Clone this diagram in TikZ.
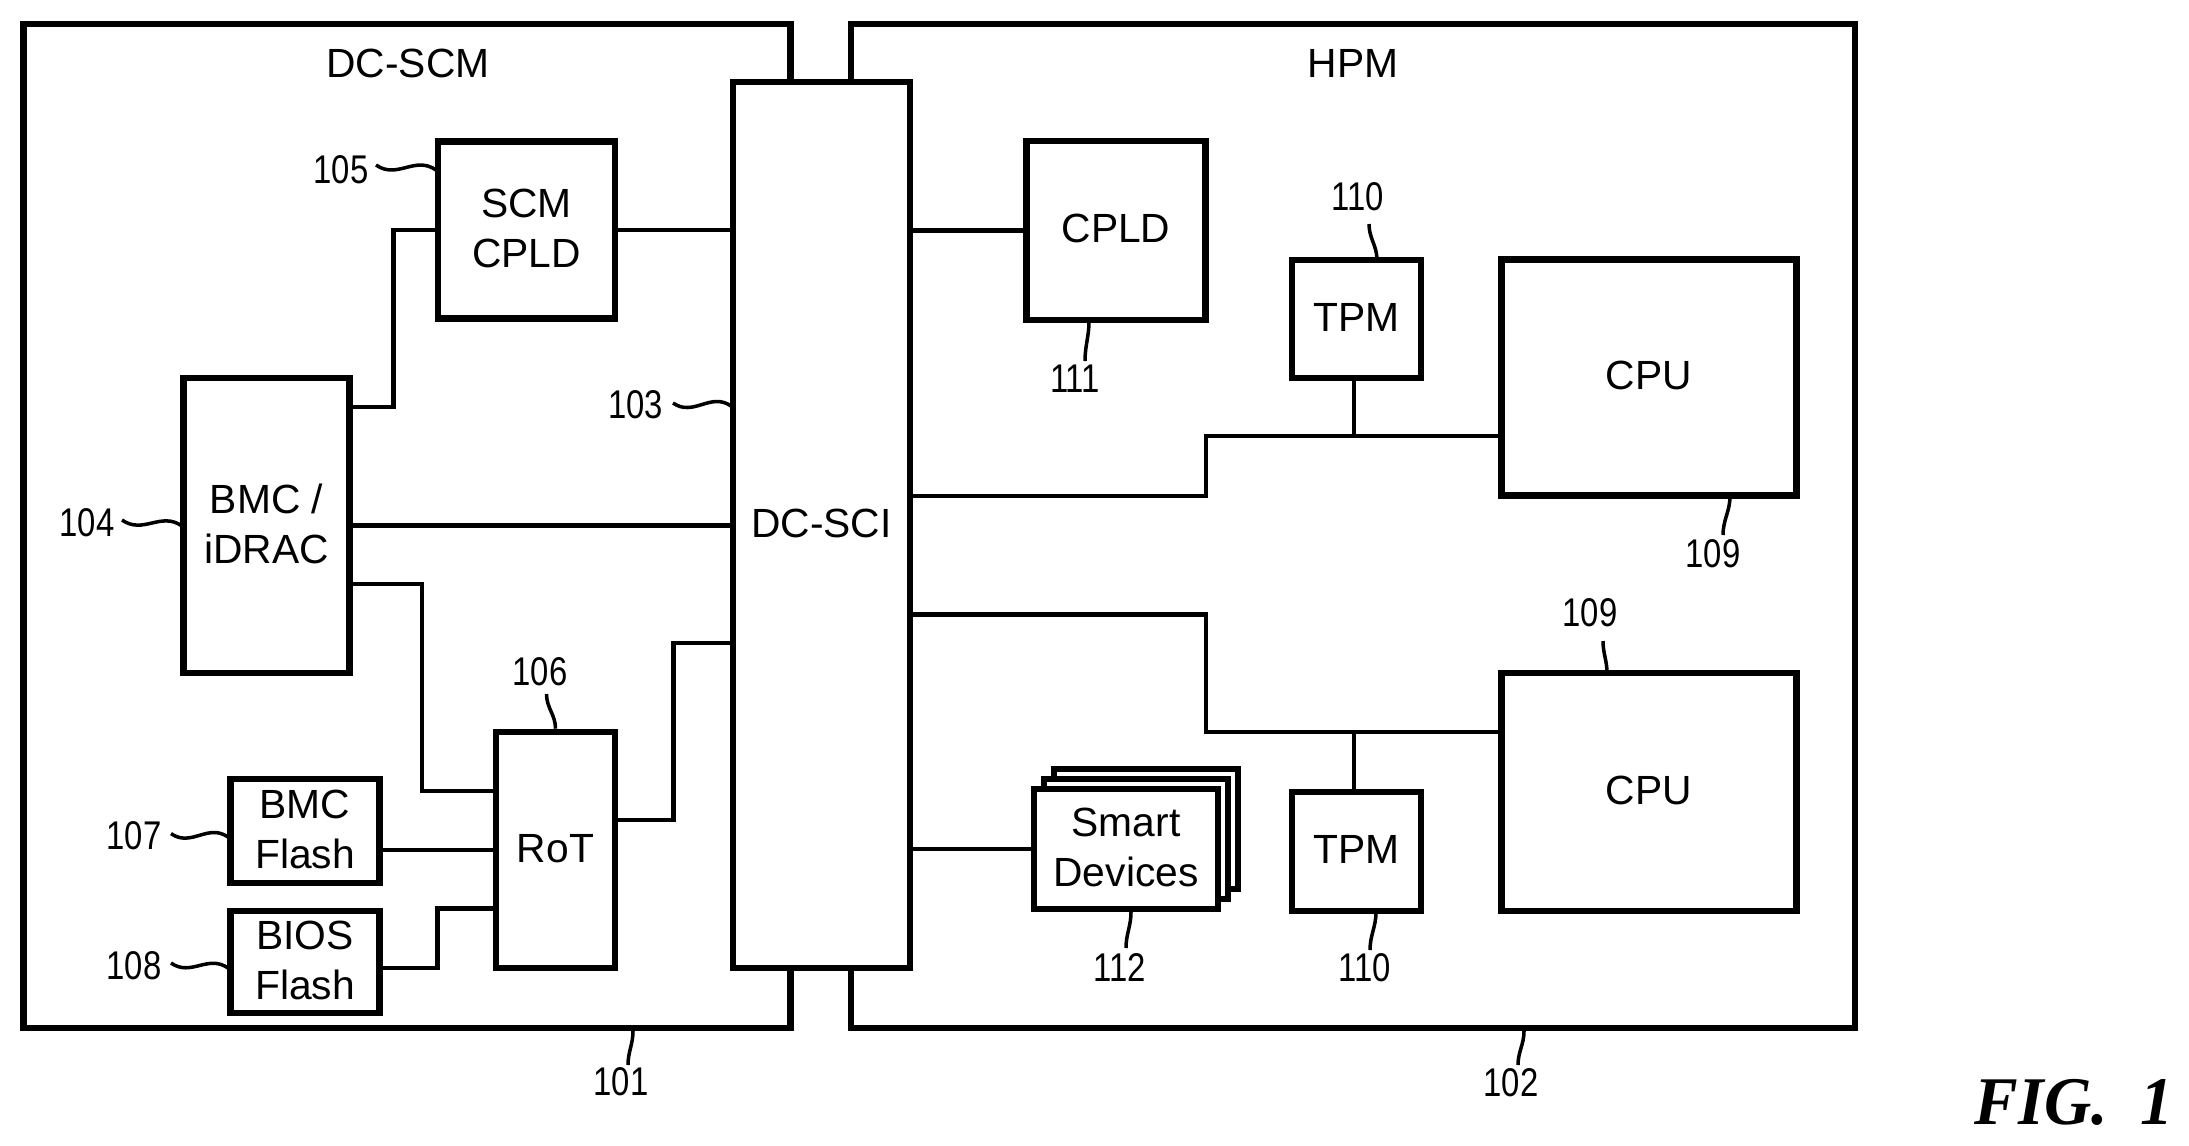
\documentclass[tikz,border=0pt]{standalone}
\usepackage{fontspec}
\setmainfont{Liberation Sans}
\newfontfamily\numfont[FakeStretch=0.82]{Liberation Sans}
\newfontfamily\figfont[FakeStretch=0.96]{Liberation Serif}

\begin{document}
\begin{tikzpicture}
  [box/.style={rectangle,draw=black,fill=white,line width=1.9pt,inner sep=0pt,
    align=center,text depth=1pt,font=\fontsize{11.6}{14}\selectfont},
  title/.style={font=\fontsize{11.6}{14}\selectfont},
  num/.style={font=\numfont\fontsize{11.4}{14}\selectfont,inner sep=0pt},
  wire/.style={draw,line width=1.35pt,line join=miter},
  hlead/.style={draw,line width=1pt,out=-35,in=145,looseness=1.1},
  vlead/.style={draw,line width=1pt,out=-90,in=90}]

  \useasboundingbox (0,0) rectangle (21.89,-11.45);

  % outer boards
  \node[box,minimum width=7.67cm,minimum height=10.04cm] (scmb) at (4.07,-5.26) {};
  \node[box,minimum width=10.04cm,minimum height=10.04cm] (hpmb) at (13.53,-5.26) {};
  \node[title] (scmt) at (4.08,-0.63) {DC-SCM};
  \node[title] (hpmt) at (13.53,-0.63) {HPM};

  \node[box,minimum width=1.77cm,minimum height=8.86cm] (sci) at (8.215,-5.25) {DC-SCI};

  \node[box,minimum width=1.77cm,minimum height=1.77cm] (scm) at (5.265,-2.30) {SCM\\CPLD};
  \node[box,minimum width=1.66cm,minimum height=2.95cm] (bmc) at (2.665,-5.255) {BMC /\\iDRAC};
  \node[box,minimum width=1.19cm,minimum height=2.36cm] (rot) at (5.555,-8.50) {RoT};
  \node[box,minimum width=1.495cm,minimum height=1.04cm] (bfl) at (3.05,-8.31) {BMC\\Flash};
  \node[box,minimum width=1.495cm,minimum height=1.02cm] (ifl) at (3.05,-9.62) {BIOS\\Flash};

  \node[box,minimum width=1.79cm,minimum height=1.79cm] (cpld) at (11.16,-2.305) {CPLD};
  \node[box,minimum width=1.29cm,minimum height=1.18cm] (tpmu) at (13.565,-3.19) {TPM};
  \node[box,minimum width=2.95cm,minimum height=2.36cm] (cpuu) at (16.49,-3.775) {CPU};
  \node[box,minimum width=2.95cm,minimum height=2.38cm] (cpul) at (16.49,-7.92) {CPU};
  \node[box,minimum width=1.29cm,minimum height=1.19cm] (tpml) at (13.565,-8.515) {TPM};

  \node[box,minimum width=1.84cm,minimum height=1.20cm] (sdb) at (11.46,-8.29) {};
  \node[box,minimum width=1.84cm,minimum height=1.20cm] (sdm) at (11.36,-8.39) {};
  \node[box,minimum width=1.84cm,minimum height=1.20cm] (sdf) at (11.26,-8.49) {Smart\\Devices};

  \coordinate (ja) at (3.935,-4.07);
  \coordinate (jb) at (4.22,-5.84);
  \coordinate (jc) at (4.22,-7.91);
  \coordinate (jd) at (6.735,-8.20);
  \coordinate (je) at (6.735,-6.43);
  \coordinate (jf) at (4.375,-9.68);
  \coordinate (jg) at (4.375,-9.087);
  \coordinate (jh) at (12.06,-4.96);
  \coordinate (ji) at (12.06,-4.36);
  \coordinate (jj) at (13.54,-4.36);
  \coordinate (jk) at (12.06,-6.145);
  \coordinate (jl) at (12.06,-7.32);
  \coordinate (jm) at (13.54,-7.32);

  \draw[wire] (scm.east) -- (scm.east -| sci.west);
  \draw[wire] (bmc.east |- ja) -- (ja) |- (scm.west);
  \draw[wire] (bmc.east) -- (bmc.east -| sci.west);
  \draw[wire] (bmc.east |- jb) -- (jb) -- (jc) -- (jc -| rot.west);
  \draw[wire] (rot.east |- jd) -- (jd) -- (je) -- (je -| sci.west);
  \draw[wire] (rot.west) -- (rot.west -| bfl.east);
  \draw[wire] (ifl.east |- jf) -- (jf) -- (jg) -- (jg -| rot.west);

  \draw[wire] (cpld.west) -- (cpld.west -| sci.east);
  \draw[wire] (sci.east |- jh) -- (jh) -- (ji) -- (ji -| cpuu.west);
  \draw[wire] (jj) -- (jj |- tpmu.south);
  \draw[wire] (sci.east |- jk) -- (jk) -- (jl) -- (jl -| cpul.west);
  \draw[wire] (jm) -- (jm |- tpml.north);
  \draw[wire] (sdf.west) -- (sdf.west -| sci.east);

  % reference numerals
  \node[num] (n105) at (3.41,-1.70) {105};
  \node[num] (n103) at (6.355,-4.05) {103};
  \node[num] (n104) at (0.87,-5.23) {104};
  \node[num] (n106) at (5.40,-6.72) {106};
  \node[num] (n107) at (1.34,-8.36) {107};
  \node[num] (n108) at (1.34,-9.66) {108};
  \node[num] (n101) at (6.21,-10.82) {101};
  \node[num] (n102) at (15.11,-10.83) {102};
  \node[num] (n112) at (11.20,-9.67) {112};
  \node[num] (n110b) at (13.65,-9.68) {110};
  \node[num] (n110t) at (13.58,-1.97) {110};
  \node[num] (n111) at (10.75,-3.79) {111};
  \node[num] (n109t) at (15.90,-6.13) {109};
  \node[num] (n109b) at (17.13,-5.54) {109};

  \coordinate (a105) at (3.76,-1.65);
  \coordinate (b105) at (4.36,-1.70);
  \coordinate (a103) at (6.73,-4.03);
  \coordinate (b103) at (7.31,-4.06);
  \coordinate (a104) at (1.22,-5.20);
  \coordinate (b104) at (1.82,-5.26);
  \coordinate (a106) at (5.465,-6.94);
  \coordinate (a107) at (1.71,-8.336);
  \coordinate (b107) at (2.28,-8.37);
  \coordinate (a108) at (1.71,-9.63);
  \coordinate (b108) at (2.28,-9.68);
  \coordinate (b101) at (6.33,-10.31);
  \coordinate (a101) at (6.28,-10.65);
  \coordinate (b102) at (15.24,-10.31);
  \coordinate (a102) at (15.18,-10.65);
  \coordinate (b112) at (11.31,-9.12);
  \coordinate (a112) at (11.26,-9.48);
  \coordinate (b110) at (13.76,-9.12);
  \coordinate (a110) at (13.70,-9.50);
  \coordinate (a11t) at (13.69,-2.24);
  \coordinate (b11t) at (13.77,-2.60);
  \coordinate (b111) at (10.89,-3.21);
  \coordinate (a111) at (10.85,-3.61);
  \coordinate (b109) at (17.30,-4.96);
  \coordinate (a109) at (17.23,-5.35);
  \coordinate (a19t) at (16.03,-6.41);
  \coordinate (b19t) at (16.07,-6.73);

  \draw[hlead] (a105) to (b105);
  \draw[hlead] (a103) to (b103);
  \draw[hlead] (a104) to (b104);
  \draw[hlead] (a107) to (b107);
  \draw[hlead] (a108) to (b108);
  \draw[vlead] (a106) to (rot.north);
  \draw[vlead] (b101) to (a101);
  \draw[vlead] (b102) to (a102);
  \draw[vlead] (b112) to (a112);
  \draw[vlead] (b110) to (a110);
  \draw[vlead] (a11t) to (b11t);
  \draw[vlead] (b111) to (a111);
  \draw[vlead] (b109) to (a109);
  \draw[vlead] (a19t) to (b19t);

  \node[font=\figfont\bfseries\itshape\fontsize{19.4}{22}\selectfont,inner sep=0pt] (fig) at (20.74,-11.02) {FIG.~~1};
\end{tikzpicture}
\end{document}
